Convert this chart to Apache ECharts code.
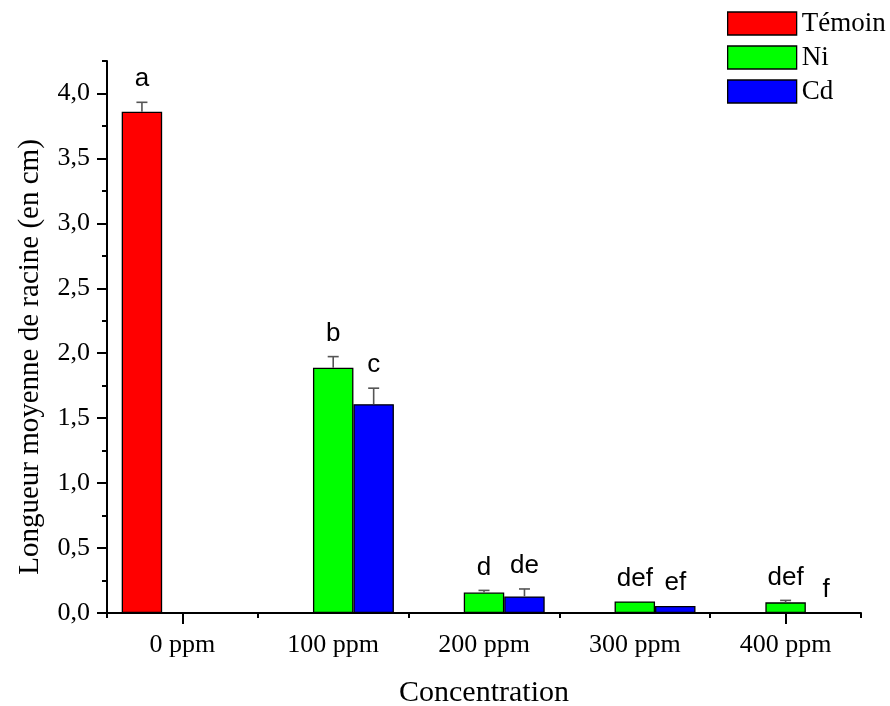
<!DOCTYPE html>
<html><head><meta charset="utf-8">
<script src="https://cdn.jsdelivr.net/npm/echarts@6/dist/echarts.min.js"></script>
<style>html,body{margin:0;padding:0;background:#fff}#c{width:890px;height:706px}</style>
</head><body><div id="c"></div>
<script>
const categories = ['0 ppm', '100 ppm', '200 ppm', '300 ppm', '400 ppm'];
const seriesNames = ['Témoin', 'Ni', 'Cd'];
const temoinValues = [3.86, null, null, null, null];
const temoinErrors = [0.072, 0, 0, 0, 0];
const temoinLetters = ['a', '', '', '', ''];
const niValues = [null, 1.889, 0.158, 0.089, 0.082];
const niErrors = [0, 0.085, 0.016, 0, 0.015];
const niLetters = ['', 'b', 'd', 'def', 'def'];
const cdValues = [null, 1.608, 0.128, 0.054, 0];
const cdErrors = [0, 0.123, 0.057, 0, 0];
const cdLetters = ['', 'c', 'de', 'ef', 'f'];
const yMajorTicks = [0, 0.5, 1.0, 1.5, 2.0, 2.5, 3.0, 3.5, 4.0];

const colors = ['#ff0000', '#00ff00', '#0000ff'];
const valueSets = [temoinValues, niValues, cdValues];
const errorSets = [temoinErrors, niErrors, cdErrors];
const letterSets = [temoinLetters, niLetters, cdLetters];
const serif = 'Liberation Serif, Times New Roman, serif';
const sans = 'Liberation Sans, Arial, sans-serif';
const CAT_GAP = 0.195;

const chart = echarts.init(document.getElementById('c'));
const series = [];
valueSets.forEach((vals, k) => {
  series.push({
    name: seriesNames[k], type: 'bar', xAxisIndex: 0, yAxisIndex: 0,
    data: vals.map(v => v == null ? '-' : v),
    barGap: '0%', barCategoryGap: (CAT_GAP * 100) + '%',
    itemStyle: { color: colors[k], borderColor: '#000', borderWidth: 1.3 },
    emphasis: { disabled: true }, z: 2
  });
});
valueSets.forEach((vals, k) => {
  const data = [];
  vals.forEach((v, i) => { if (v != null) data.push([i, v]); });
  series.push({
    type: 'custom', xAxisIndex: 0, yAxisIndex: 0, z: 5, silent: true,
    encode: { x: 0, y: 1 },
    data: data,
    renderItem: function (params, api) {
      const i = api.value(0);
      const v = api.value(1);
      const err = errorSets[k][i];
      const letter = letterSets[k][i];
      const band = api.size([1, 0])[0];
      const barW = band * (1 - CAT_GAP) / 3;
      const base = api.coord([i, v]);
      const x = base[0] + (k - 1) * barW;
      const top = api.coord([i, v + err])[1];
      const children = [];
      if (err > 0) {
        children.push({ type: 'line', shape: { x1: x, y1: base[1], x2: x, y2: top }, style: { stroke: '#555', lineWidth: 1.6 } });
        children.push({ type: 'line', shape: { x1: x - 5.5, y1: top, x2: x + 5.5, y2: top }, style: { stroke: '#555', lineWidth: 1.6 } });
      }
      if (letter) {
        children.push({ type: 'text', style: { text: letter, x: x, y: top - 10, align: 'center', verticalAlign: 'bottom', font: '26px ' + sans, fill: '#000' } });
      }
      return { type: 'group', children: children };
    }
  });
});

chart.setOption({
  backgroundColor: '#fff',
  animation: false,
  legend: {
    orient: 'vertical', left: 722, top: 5, itemGap: 7,
    itemWidth: 69, itemHeight: 23, icon: 'rect', selectedMode: false,
    data: seriesNames,
    textStyle: { fontFamily: serif, fontSize: 27, color: '#000' },
    itemStyle: { borderColor: '#000', borderWidth: 1.3 }
  },
  grid: { left: 107, right: 29, top: 61, bottom: 93, containLabel: false, outerBoundsMode: 'none' },
  xAxis: [{
    type: 'category', data: categories, position: 'bottom',
    axisLine: { lineStyle: { color: '#000', width: 2 } },
    axisTick: { show: true, alignWithLabel: false, length: 5, lineStyle: { color: '#000', width: 2 } },
    axisLabel: { color: '#000', fontFamily: serif, fontSize: 26, margin: 19 },
    name: 'Concentration', nameLocation: 'middle', nameGap: 65,
    nameTextStyle: { fontFamily: serif, fontSize: 30, color: '#000' }
  }, {
    type: 'category', data: categories, position: 'bottom',
    axisLine: { show: false },
    axisTick: { show: true, alignWithLabel: true, length: 11, interval: function (i) { return i === 0 || i === categories.length - 1; }, lineStyle: { color: '#000', width: 2 } },
    axisLabel: { show: false }
  }],
  yAxis: [{
    type: 'value', min: 0, max: 4.25, interval: 0.25,
    splitLine: { show: false },
    axisLine: { show: true, lineStyle: { color: '#000', width: 2 } },
    axisTick: { show: true, length: 5, lineStyle: { color: '#000', width: 2 } },
    axisLabel: {
      color: '#000', fontFamily: serif, fontSize: 26, margin: 17,
      formatter: function (v) {
        return yMajorTicks.some(t => Math.abs(t - v) < 1e-6) ? v.toFixed(1).replace('.', ',') : '';
      }
    },
    name: 'Longueur moyenne de racine (en cm)', nameLocation: 'middle', nameGap: 62,
    nameTextStyle: { fontFamily: serif, fontSize: 29, color: '#000', padding: [0, 40, 0, 0] }
  }, {
    type: 'value', min: 0, max: 4.25, interval: 0.5, position: 'left',
    splitLine: { show: false },
    axisLine: { show: false },
    axisTick: { show: true, length: 10, customValues: yMajorTicks, lineStyle: { color: '#000', width: 2 } },
    axisLabel: { show: false }
  }],
  series: series
});
</script></body></html>
